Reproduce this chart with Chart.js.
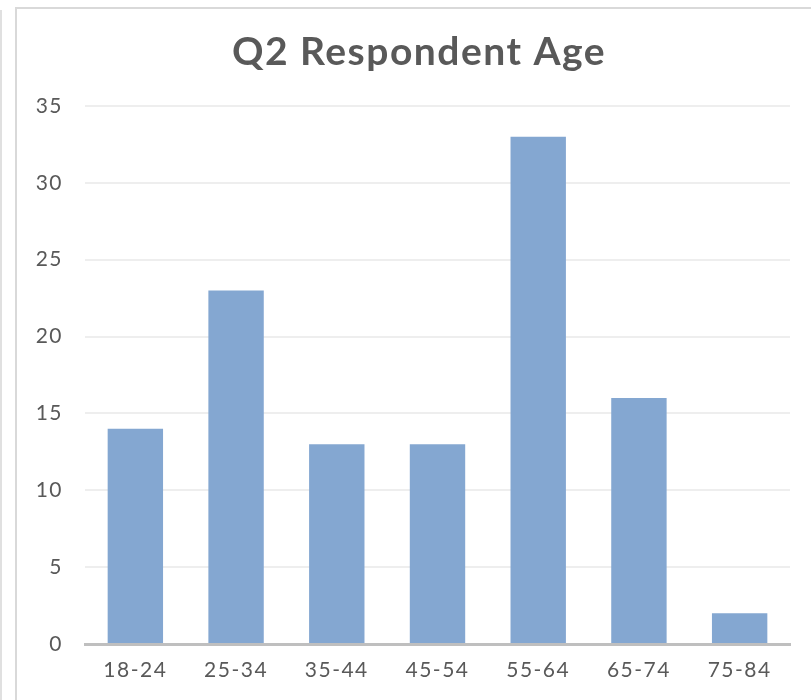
<!DOCTYPE html>
<html>
<head>
<meta charset="utf-8">
<script src="https://cdn.jsdelivr.net/npm/chart.js"></script>
<style>
  html, body { margin: 0; padding: 0; background: #fff; width: 811px; height: 700px; overflow: hidden; }
  #outer { position: absolute; left: 0px; top: 10px; width: 2px; height: 700px; background: #e0e0e0; }
  #frame { position: absolute; left: 15px; top: 7px; width: 820px; height: 720px; border: 2px solid #d9d9d9; box-sizing: border-box; }
  #wrap { position: absolute; left: 17px; top: 9px; width: 794px; height: 691px; }
</style>
</head>
<body>
<div id="outer"></div>
<div id="frame"></div>
<div id="wrap"><canvas id="c"></canvas></div>
<script>
const categories = ["18-24", "25-34", "35-44", "45-54", "55-64", "65-74", "75-84"];
const respondents = [14, 23, 13, 13, 33, 16, 2];
const titleText = "Q2 Respondent Age";
const yMin = 0, yMax = 35, yStep = 5;

const FONT = "'Lato', 'Open Sans', sans-serif";
const spacingPlugin = {
  id: 'spacing',
  beforeUpdate(chart) { chart.ctx.letterSpacing = '1.5px'; },
  beforeDraw(chart) { chart.ctx.letterSpacing = '1.5px'; }
};
const titlePlugin = {
  id: 'ownTitle',
  afterDraw(chart) {
    const ctx = chart.ctx;
    ctx.save();
    ctx.letterSpacing = '1.5px';
    ctx.font = "bold 39px " + FONT;
    ctx.fillStyle = '#595959';
    ctx.textAlign = 'center';
    ctx.textBaseline = 'middle';
    ctx.fillText(titleText, 402, 43);
    ctx.restore();
  }
};
new Chart(document.getElementById('c'), {
  type: 'bar',
  plugins: [spacingPlugin, titlePlugin],
  data: {
    labels: categories,
    datasets: [{
      data: respondents,
      backgroundColor: '#84a7d1',
      borderWidth: 0,
      categoryPercentage: 1.0,
      barPercentage: 0.55
    }]
  },
  options: {
    responsive: true,
    maintainAspectRatio: false,
    animation: false,
    layout: { padding: { left: 0, right: 21, top: 97, bottom: 0 } },
    plugins: {
      legend: { display: false },
      tooltip: { enabled: false },
      title: { display: false }
    },
    scales: {
      y: {
        min: yMin, max: yMax,
        ticks: { stepSize: yStep, color: '#595959', font: { family: FONT, size: 21 }, padding: 22 },
        grid: { color: '#eeeeee', lineWidth: 2, drawTicks: false },
        border: { display: false },
        afterFit: (s) => { s.width = 68; }
      },
      x: {
        ticks: { color: '#595959', font: { family: FONT, size: 21 }, padding: 14 },
        grid: { display: false, drawTicks: false },
        border: { display: true, color: '#bfbfbf', width: 3 },
        afterFit: (s) => { s.height = 56; }
      }
    }
  }
});
</script>
</body>
</html>
